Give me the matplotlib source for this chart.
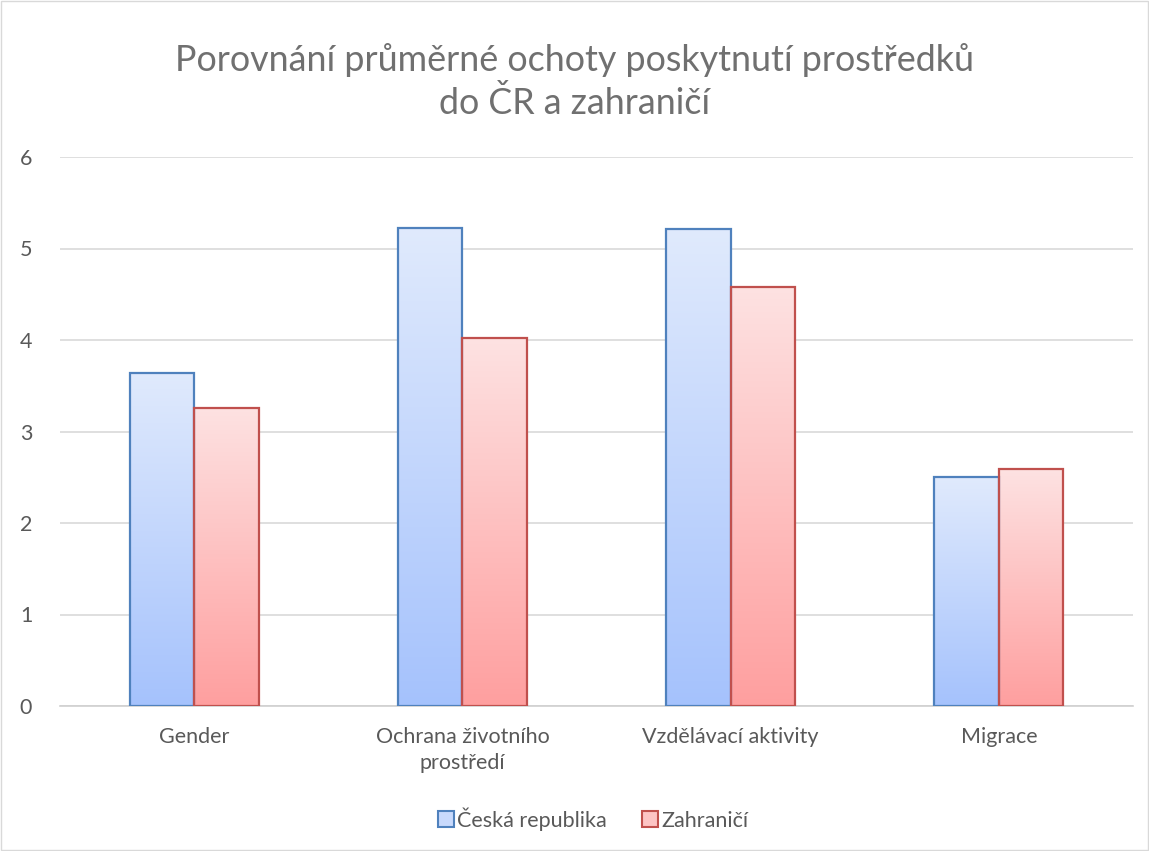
import numpy as np
import matplotlib.pyplot as plt
from matplotlib.colors import LinearSegmentedColormap
from matplotlib.patches import Patch

plt.rcParams['font.family'] = ['Lato', 'DejaVu Sans']

categories = ['Gender', 'Ochrana životního\nprostředí', 'Vzdělávací aktivity', 'Migrace']
series = ['Česká republika', 'Zahraničí']
cr_values = [3.64, 5.22, 5.21, 2.50]
abroad_values = [3.26, 4.02, 4.58, 2.59]

edge_colors = ['#4f81bd', '#c0504d']
grad_top = ['#e0eafd', '#fde2e2']
grad_bottom = ['#a5c2fc', '#ff9f9f']

fig = plt.figure(figsize=(11.49, 8.51), dpi=100)
ax = fig.add_axes([60 / 1149, 1 - 706 / 851, 1073 / 1149, 549 / 851])

x = np.arange(len(categories))
width = 0.24
grad = np.linspace(0, 1, 256).reshape(-1, 1)

for i, (vals, name) in enumerate(zip([cr_values, abroad_values], series)):
    offs = (i - 0.5) * width
    bars = ax.bar(x + offs, vals, width, facecolor='none', edgecolor=edge_colors[i],
                  linewidth=1.6, zorder=3, label=name)
    cmap = LinearSegmentedColormap.from_list('g%d' % i, [grad_bottom[i], grad_top[i]])
    for b in bars:
        x0, y0 = b.get_x(), b.get_y()
        im = ax.imshow(grad, extent=[x0, x0 + b.get_width(), y0, y0 + b.get_height()],
                       origin='lower', aspect='auto', cmap=cmap, zorder=2)
        im.set_clip_path(b)

ax.set_xlim(-0.5, 3.5)
ax.set_ylim(0, 6)
ax.set_yticks(range(0, 7))
ax.set_xticks(x)
ax.set_xticklabels(categories, linespacing=1.4)
ax.grid(axis='y', color='#d9d9d9', linewidth=1.2, zorder=0)
ax.set_axisbelow(True)
for s in ['top', 'right', 'left']:
    ax.spines[s].set_visible(False)
ax.spines['bottom'].set_color('#d0d0d0')
ax.spines['bottom'].set_linewidth(1.2)
ax.tick_params(axis='both', length=0, labelsize=15.5, colors='#595959')
ax.tick_params(axis='x', pad=15)
ax.tick_params(axis='y', pad=20)

fig.text(0.5, 1 - 60 / 851, 'Porovnání průměrné ochoty poskytnutí prostředků',
         ha='center', va='center', fontsize=25.8, color='#707070')
fig.text(0.5, 1 - 103 / 851, 'do ČR a zahraničí',
         ha='center', va='center', fontsize=25.8, color='#707070')

handles = [Patch(facecolor='#c8d9fc', edgecolor=edge_colors[0], linewidth=1.5),
           Patch(facecolor='#fdc4c4', edgecolor=edge_colors[1], linewidth=1.5)]
fig.legend(handles, series, loc='center', bbox_to_anchor=(593 / 1149, 1 - 819 / 851), ncol=2,
           frameon=False, fontsize=15.5, labelcolor='#595959', handlelength=0.75,
           handleheight=0.75, handletextpad=0.15, columnspacing=1.6)

fig.patches.append(plt.Rectangle((0.001, 0.001), 0.998, 0.998, transform=fig.transFigure,
                                 fill=False, edgecolor='#d9d9d9', linewidth=1))

fig.savefig('out.png', dpi=100)
